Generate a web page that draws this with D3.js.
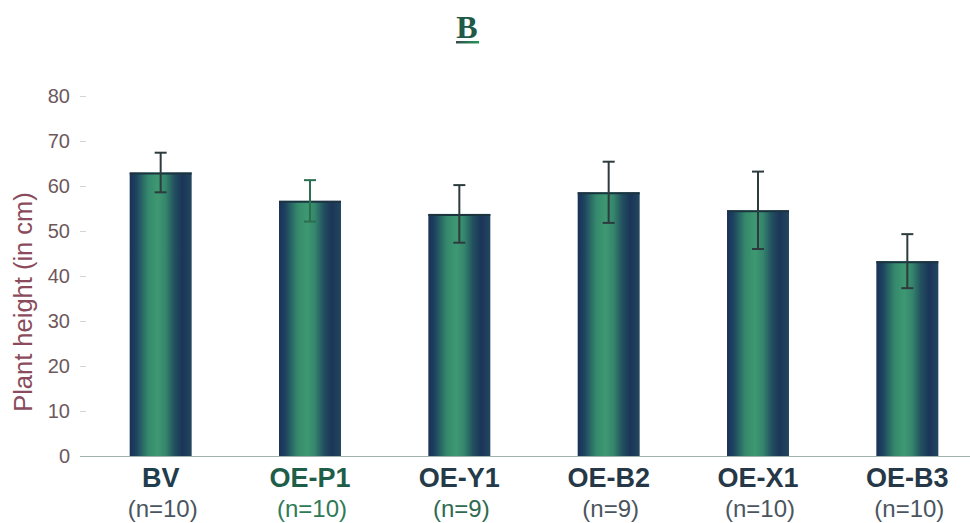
<!DOCTYPE html>
<html>
<head>
<meta charset="utf-8">
<script src="https://cdn.jsdelivr.net/npm/d3@7"></script>
<style>
  html, body { margin: 0; padding: 0; background: #fff; }
  svg { display: block; }
</style>
</head>
<body>
<svg id="chart" width="970" height="523"></svg>
<script>
// ---- data ----
const categories = ["BV", "OE-P1", "OE-Y1", "OE-B2", "OE-X1", "OE-B3"];
const sampleSizes = ["(n=10)", "(n=10)", "(n=9)", "(n=9)", "(n=10)", "(n=10)"];
const heights = [63.0, 56.7, 53.8, 58.6, 54.6, 43.3];
const errors = [4.4, 4.6, 6.4, 6.8, 8.6, 6.0];
const yTicks = [0, 10, 20, 30, 40, 50, 60, 70, 80];
const titleText = "B";
const yLabel = "Plant height (in cm)";

// ---- layout ----
const W = 970, H = 523;
const svg = d3.select("#chart");

const x = d3.scaleBand()
  .domain(categories)
  .range([86, 982])
  .paddingInner(0.585)
  .paddingOuter(0.2925);

const y = d3.scaleLinear().domain([0, 80]).range([456, 96]);

// gradient for bars
const defs = svg.append("defs");
const grad = defs.append("linearGradient")
  .attr("id", "barGrad").attr("x1", "0%").attr("x2", "100%").attr("y1", "0%").attr("y2", "0%");
[
  [0, "#1a3157"], [0.1, "#1d4260"], [0.3, "#358a6c"], [0.45, "#3e9872"],
  [0.58, "#35866c"], [0.72, "#22505f"], [0.85, "#1b3558"], [1, "#22465e"]
].forEach(([o, c]) => grad.append("stop").attr("offset", o).attr("stop-color", c));

const underGrad = defs.append("linearGradient")
  .attr("id", "ulGrad").attr("x1", "0%").attr("x2", "100%");
underGrad.append("stop").attr("offset", 0).attr("stop-color", "#3a4a50");
underGrad.append("stop").attr("offset", 1).attr("stop-color", "#1f9a55");

// title
svg.append("text")
  .attr("x", 467).attr("y", 38)
  .attr("text-anchor", "middle")
  .attr("font-family", "Liberation Serif, Times New Roman, serif")
  .attr("font-weight", "bold")
  .attr("font-size", 32)
  .attr("fill", "#1f5a48")
  .text(titleText);
svg.append("rect")
  .attr("x", 456).attr("y", 41).attr("width", 23).attr("height", 2.5)
  .attr("fill", "url(#ulGrad)");

// y axis (ticks + labels, no domain line)
const yAxis = d3.axisLeft(y).tickValues(yTicks).tickSize(6).tickPadding(10);
const gy = svg.append("g").attr("transform", "translate(86,0)").call(yAxis);
gy.select(".domain").remove();
gy.selectAll(".tick line").attr("stroke", "#d8d4cc").attr("stroke-width", 1);
gy.selectAll(".tick text")
  .attr("font-family", "Liberation Sans, Arial, sans-serif")
  .attr("font-size", 20)
  .attr("fill", "#6e585c");

// y label
svg.append("text")
  .attr("transform", "translate(32,302) rotate(-90)")
  .attr("text-anchor", "middle")
  .attr("font-family", "Liberation Sans, Arial, sans-serif")
  .attr("font-size", 25.5)
  .attr("fill", "#8a4c5c")
  .text(yLabel);

// bars
const barG = svg.append("g");
barG.selectAll("rect.bar")
  .data(heights)
  .join("rect")
  .attr("class", "bar")
  .attr("x", (d, i) => x(categories[i]))
  .attr("width", x.bandwidth())
  .attr("y", d => y(d))
  .attr("height", d => y(0) - y(d))
  .attr("fill", "url(#barGrad)");
// dark top edge
barG.selectAll("line.topedge")
  .data(heights)
  .join("line")
  .attr("class", "topedge")
  .attr("x1", (d, i) => x(categories[i]))
  .attr("x2", (d, i) => x(categories[i]) + x.bandwidth())
  .attr("y1", d => y(d) + 1).attr("y2", d => y(d) + 1)
  .attr("stroke", "#1c3440").attr("stroke-width", 2);

// baseline
svg.append("line")
  .attr("x1", 80).attr("x2", W).attr("y1", y(0) + 0.5).attr("y2", y(0) + 0.5)
  .attr("stroke", "#9fb3a8").attr("stroke-width", 1.2);

// error bars
const errColor = (i) => i === 1 ? "#2c6e50" : "#2d3a3e";
const eb = svg.append("g");
heights.forEach((h, i) => {
  const cx = x(categories[i]) + x.bandwidth() / 2;
  const top = y(h + errors[i]), bot = y(h - errors[i]);
  const g = eb.append("g").attr("stroke", errColor(i)).attr("stroke-width", 2);
  g.append("line").attr("x1", cx).attr("x2", cx).attr("y1", top).attr("y2", bot);
  g.append("line").attr("x1", cx - 6).attr("x2", cx + 6).attr("y1", top).attr("y2", top);
  g.append("line").attr("x1", cx - 6).attr("x2", cx + 6).attr("y1", bot).attr("y2", bot);
});

// category labels
const catColor = ["#1f3d4c", "#1e5e48", "#253a48", "#263848", "#263848", "#263848"];
const nColor = ["#4a5560", "#2e7a55", "#2f6a50", "#4a5560", "#4a5560", "#4a5560"];
svg.append("g").selectAll("text")
  .data(categories)
  .join("text")
  .attr("x", d => x(d) + x.bandwidth() / 2)
  .attr("y", 487)
  .attr("text-anchor", "middle")
  .attr("font-family", "Liberation Sans, Arial, sans-serif")
  .attr("font-weight", "bold")
  .attr("font-size", 27)
  .attr("fill", (d, i) => catColor[i])
  .text(d => d);
svg.append("g").selectAll("text")
  .data(sampleSizes)
  .join("text")
  .attr("x", (d, i) => x(categories[i]) + x.bandwidth() / 2 + 2)
  .attr("y", 517)
  .attr("text-anchor", "middle")
  .attr("font-family", "Liberation Sans, Arial, sans-serif")
  .attr("font-size", 24)
  .attr("fill", (d, i) => nColor[i])
  .text(d => d);
</script>
</body>
</html>
